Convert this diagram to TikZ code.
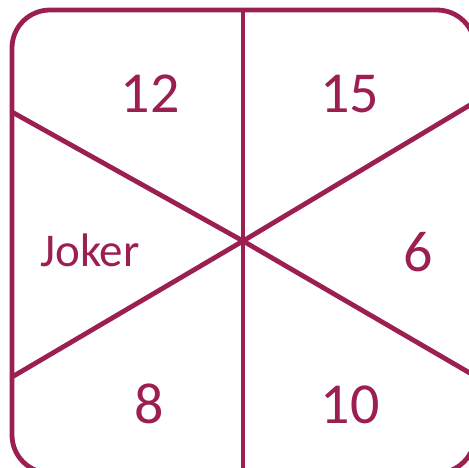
\documentclass[tikz,border=0pt]{standalone}
\usepackage{fontspec}
\setmainfont{Carlito}
\definecolor{wine}{RGB}{155,31,80}
\begin{document}
\begin{tikzpicture}[x=1pt,y=-1pt,
  edge/.style={draw=wine,line width=4.8pt},
  lab/.style={text=wine,font=\fontsize{58}{58}\selectfont,inner sep=0pt,anchor=base}]
\useasboundingbox (0,0) rectangle (469,467);
\clip (0,0) rectangle (469,467);
\draw[edge,rounded corners=38pt] (12,10) rectangle (475,473);
\coordinate (c) at (243,241);
\coordinate (t) at (243,10);
\coordinate (b) at (243,473);
\coordinate (ul) at (12,112);
\coordinate (ll) at (12,377);
\coordinate (ur) at (475,102);
\coordinate (lr) at (475,376);
\draw[edge] (t) -- (b);
\draw[edge] (ul) -- (c) -- (lr);
\draw[edge] (ll) -- (c) -- (ur);
\node[lab] (n12) at (150,112) {12};
\node[lab] (n15) at (349.5,112) {15};
\node[lab,font=\fontsize{47}{47}\selectfont] (nj) at (90,266) {Joker};
\node[lab] (n6) at (418,271) {6};
\node[lab] (n8) at (149,423) {8};
\node[lab] (n10) at (350,423) {10};
\end{tikzpicture}
\end{document}
